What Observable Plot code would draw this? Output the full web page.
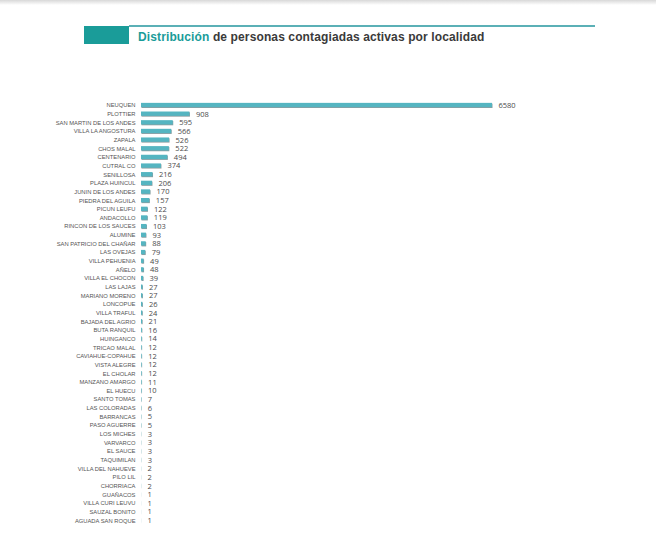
<!DOCTYPE html>
<html>
<head>
<meta charset="utf-8">
<script src="https://cdn.jsdelivr.net/npm/d3@7"></script>
<script src="https://cdn.jsdelivr.net/npm/@observablehq/plot@0.6"></script>
<style>
  html, body { margin: 0; padding: 0; background: #fff; width: 656px; height: 555px; overflow: hidden; }
  #shadow { position: absolute; left: 0; top: 0; width: 656px; height: 5px; background: linear-gradient(#d8d8d8, #fff); }
  #box { position: absolute; left: 84px; top: 26px; width: 45px; height: 18px; background: #1a9c99; }
  #rule { position: absolute; left: 129px; top: 25px; width: 466px; height: 2px; background: #5bb0b6; }
  #title { position: absolute; left: 138px; top: 30px; font-family: "Liberation Sans", Arial, sans-serif; font-weight: bold; font-size: 12px; color: #3a3a3a; letter-spacing: 0.12px; white-space: nowrap; }
  #title span { color: #1a9c99; }
  #chart { position: absolute; left: 0; top: 95px; }
</style>
</head>
<body>
<div id="shadow"></div>
<div id="box"></div>
<div id="rule"></div>
<div id="title"><span>Distribución</span> de personas contagiadas activas por localidad</div>
<div id="chart"></div>
<script>
const localidades = ["NEUQUEN","PLOTTIER","SAN MARTIN DE LOS ANDES","VILLA LA ANGOSTURA","ZAPALA","CHOS MALAL","CENTENARIO","CUTRAL CO","SENILLOSA","PLAZA HUINCUL","JUNIN DE LOS ANDES","PIEDRA DEL AGUILA","PICUN LEUFU","ANDACOLLO","RINCON DE LOS SAUCES","ALUMINE","SAN PATRICIO DEL CHAÑAR","LAS OVEJAS","VILLA PEHUENIA","AÑELO","VILLA EL CHOCON","LAS LAJAS","MARIANO MORENO","LONCOPUE","VILLA TRAFUL","BAJADA DEL AGRIO","BUTA RANQUIL","HUINGANCO","TRICAO MALAL","CAVIAHUE-COPAHUE","VISTA ALEGRE","EL CHOLAR","MANZANO AMARGO","EL HUECU","SANTO TOMAS","LAS COLORADAS","BARRANCAS","PASO AGUERRE","LOS MICHES","VARVARCO","EL SAUCE","TAQUIMILAN","VILLA DEL NAHUEVE","PILO LIL","CHORRIACA","GUAÑACOS","VILLA CURI LEUVU","SAUZAL BONITO","AGUADA SAN ROQUE"];
const activos = [6580,908,595,566,526,522,494,374,216,206,170,157,122,119,103,93,88,79,49,48,39,27,27,26,24,21,16,14,12,12,12,12,11,10,7,6,5,5,3,3,3,3,2,2,2,1,1,1,1];

const data = localidades.map((l, i) => ({localidad: l, valor: activos[i]}));

const chart = Plot.plot({
  width: 656,
  height: 440,
  marginLeft: 141,
  marginRight: 164,
  marginTop: 5.7,
  marginBottom: 10.45,
  style: {background: "transparent", overflow: "visible"},
  x: {domain: [0, 6580], axis: null},
  y: {domain: localidades, paddingInner: 0.5, paddingOuter: 0.25, label: null},
  marks: [
    Plot.axisY({tickSize: 0, tickPadding: 6, fontSize: 5.8, fill: "#555", fontFamily: "'Liberation Sans Narrow', 'Liberation Sans', sans-serif"}),
    Plot.barX(data, {x: "valor", y: "localidad", fill: "#8c9da0", dy: 0.8, dx: 0.5}),
    Plot.barX(data, {x: "valor", y: "localidad", fill: "#55b5c1"}),
    Plot.text(data, {x: "valor", y: "localidad", text: d => String(d.valor), textAnchor: "start", dx: 6, fontSize: 7.5, fill: "#4a4a4a", fontFamily: "'Open Sans', sans-serif"})
  ]
});
document.getElementById("chart").appendChild(chart);
</script>
</body>
</html>
